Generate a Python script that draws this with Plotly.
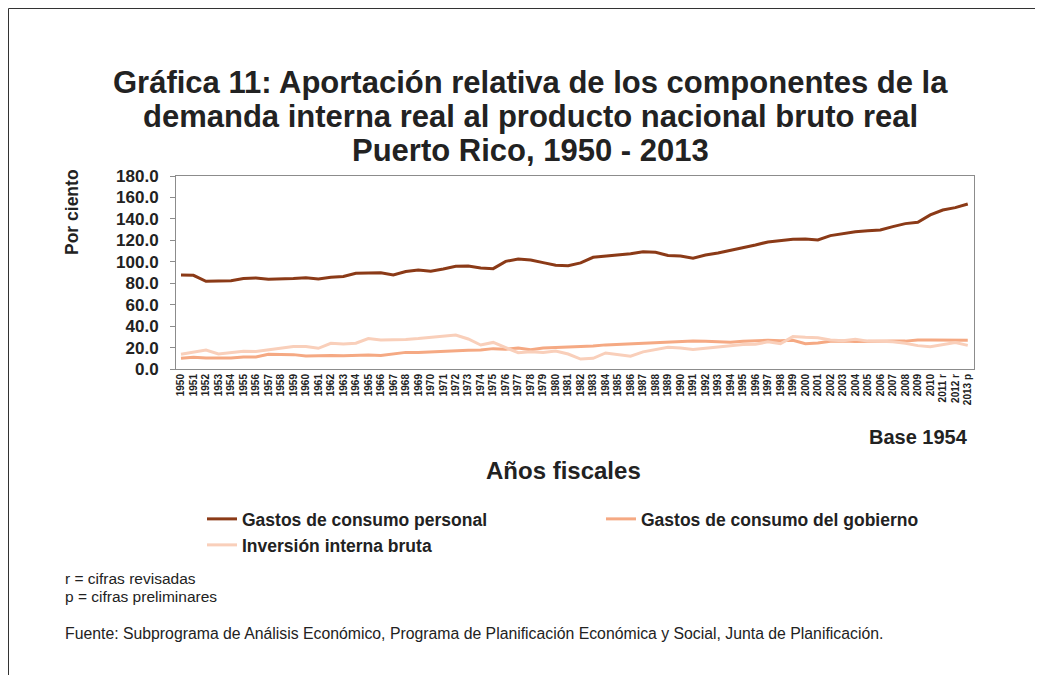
import plotly.graph_objects as go

years = [str(y) for y in range(1950, 2011)] + ["2011 r", "2012 r", "2013 p"]

personal = [87.7, 87.4, 81.8, 81.8, 82.4, 84.3, 84.9, 83.7, 83.7, 84.3,
            85.2, 84.0, 85.5, 86.2, 89.2, 89.2, 89.8, 87.7, 90.9, 92.4,
            91.1, 93.3, 95.8, 96.0, 94.2, 93.6, 100.4, 102.6, 101.7, 99.2,
            96.7, 96.4, 99.0, 104.2, 105.4, 106.6, 107.5, 109.4, 108.8, 105.9,
            105.3, 103.3, 106.3, 108.2, 110.7, 112.6, 115.7, 118.5, 119.7, 121.0,
            121.3, 120.3, 124.4, 126.2, 128.1, 129.0, 129.7, 132.8, 135.6, 136.8,
            143.7, 148.3, 150.5, 153.9]

gobierno = [10.0, 10.9, 10.3, 10.0, 10.3, 11.2, 11.2, 13.7, 13.4, 13.4,
            12.1, 12.7, 12.7, 12.4, 13.0, 13.0, 12.7, 14.3, 15.5, 15.5,
            16.2, 16.8, 17.2, 17.6, 17.8, 19.0, 18.5, 19.5, 18.0, 19.5,
            20.0, 20.5, 20.5, 21.5, 22.5, 23.0, 23.5, 24.0, 24.5, 25.5,
            26.0, 26.0, 25.8, 25.2, 25.0, 25.8, 26.4, 26.7, 26.4, 26.7,
            23.6, 24.2, 25.9, 26.2, 25.6, 26.0, 26.2, 26.2, 26.0, 27.0,
            27.0, 27.0, 27.0, 26.8]

inversion = [13.7, 16.0, 17.7, 14.0, 15.0, 16.5, 16.3, 18.0, 19.3, 21.0,
             21.0, 19.3, 24.0, 23.4, 24.0, 28.4, 27.0, 27.0, 27.6, 28.4,
             29.5, 31.0, 31.7, 28.0, 22.4, 24.8, 20.2, 15.2, 16.0, 15.5,
             16.7, 14.0, 9.3, 10.0, 15.0, 13.7, 12.0, 16.0, 18.5, 20.3,
             19.6, 18.3, 19.3, 20.5, 21.2, 22.8, 23.0, 25.3, 23.6, 30.2,
             29.5, 29.2, 27.0, 26.4, 27.7, 26.0, 25.8, 25.3, 24.0, 21.8,
             20.8, 22.7, 24.6, 22.0]

names = ["Gastos de consumo personal", "Gastos de consumo del gobierno",
         "Inversión interna bruta"]
colors = ["#8B3A17", "#F5A983", "#F9CFBA"]

title_lines = ["Gráfica 11: Aportación relativa de los componentes de la",
               "demanda interna real al producto nacional bruto real",
               "Puerto Rico, 1950 - 2013"]

FONT = "Liberation Sans, Arial, sans-serif"
TXT = "#222222"

# page body has an 8px margin: figure coords = screen coords - 8
OFF = 8
W, H = 1043 - 2 * OFF, 683 - 2 * OFF
L, T = 176 - OFF, 176 - OFF
R = W - (974 - OFF)
B = H - (369 - OFF)
pw, ph = W - L - R, H - T - B


def px(sx):
    return (sx - OFF - L) / pw


def py(sy):
    return (H - B - (sy - OFF)) / ph


fig = go.Figure()
legends = ["legend", "legend2", "legend3"]
for name, vals, col, lg in zip(names, [personal, gobierno, inversion], colors, legends):
    fig.add_trace(go.Scatter(x=years, y=vals, name=name, mode="lines",
                             line=dict(color=col, width=3), legend=lg))

legend_common = dict(orientation="h",
                     font=dict(family=FONT, size=17.5, color=TXT, weight="bold"),
                     bgcolor="rgba(0,0,0,0)", itemwidth=30,
                     xanchor="left", yanchor="middle")

fig.update_layout(
    width=W, height=H,
    margin=dict(l=L, r=R, t=T, b=B, autoexpand=False),
    paper_bgcolor="white", plot_bgcolor="white",
    font=dict(family=FONT, color=TXT),
    xaxis=dict(type="category", range=[-0.4, 63.5], tickangle=-90,
               tickfont=dict(family=FONT, size=10, color=TXT, weight="bold"),
               showline=True, linecolor="#8c8c8c", linewidth=1, mirror=True,
               showgrid=False, ticks="", zeroline=False),
    yaxis=dict(range=[0, 180], dtick=20, tickformat=".1f",
               tickfont=dict(family=FONT, size=17, color=TXT, weight="bold"),
               showline=True, linecolor="#8c8c8c", linewidth=1, mirror=True,
               ticks="outside", ticklen=5, tickcolor="#8c8c8c",
               ticklabelstandoff=8,
               showgrid=False, zeroline=False),
    legend=dict(x=px(202), y=py(519), **legend_common),
    legend2=dict(x=px(601), y=py(519), **legend_common),
    legend3=dict(x=px(202), y=py(545), **legend_common),
    showlegend=True,
)

ann = []
for text, sy in zip(title_lines, [82, 116, 150]):
    ann.append(dict(text=text, x=px(530), y=py(sy), xanchor="center", yanchor="middle",
                    font=dict(family=FONT, size=31, color=TXT, weight="bold")))
ann += [
    dict(text="Por ciento", x=px(72), y=py(212), textangle=-90,
         font=dict(family=FONT, size=17.5, color=TXT, weight="bold"),
         xanchor="center", yanchor="middle"),
    dict(text="Base 1954", x=px(970), y=py(437), xanchor="right", yanchor="middle",
         font=dict(family=FONT, size=20, color=TXT, weight="bold")),
    dict(text="Años fiscales", x=px(563), y=py(470), xanchor="center", yanchor="middle",
         font=dict(family=FONT, size=24, color=TXT, weight="bold")),
    dict(text="r = cifras revisadas", x=px(63), y=py(578), xanchor="left", yanchor="middle",
         font=dict(family=FONT, size=15.5, color=TXT)),
    dict(text="p = cifras preliminares", x=px(63), y=py(596), xanchor="left", yanchor="middle",
         font=dict(family=FONT, size=15.5, color=TXT)),
    dict(text="Fuente: Subprograma de Análisis Económico, Programa de Planificación Económica y Social, Junta de Planificación.",
         x=px(63), y=py(633), xanchor="left", yanchor="middle",
         font=dict(family=FONT, size=15.8, color=TXT)),
]
for a in ann:
    a.update(xref="paper", yref="paper", showarrow=False)
fig.update_layout(annotations=ann)

fig.add_shape(type="rect", xref="paper", yref="paper",
              x0=px(8.5), x1=px(1080), y0=py(8.5), y1=py(720),
              line=dict(color="#333333", width=1), fillcolor="rgba(0,0,0,0)")

fig.write_html("out.html")
